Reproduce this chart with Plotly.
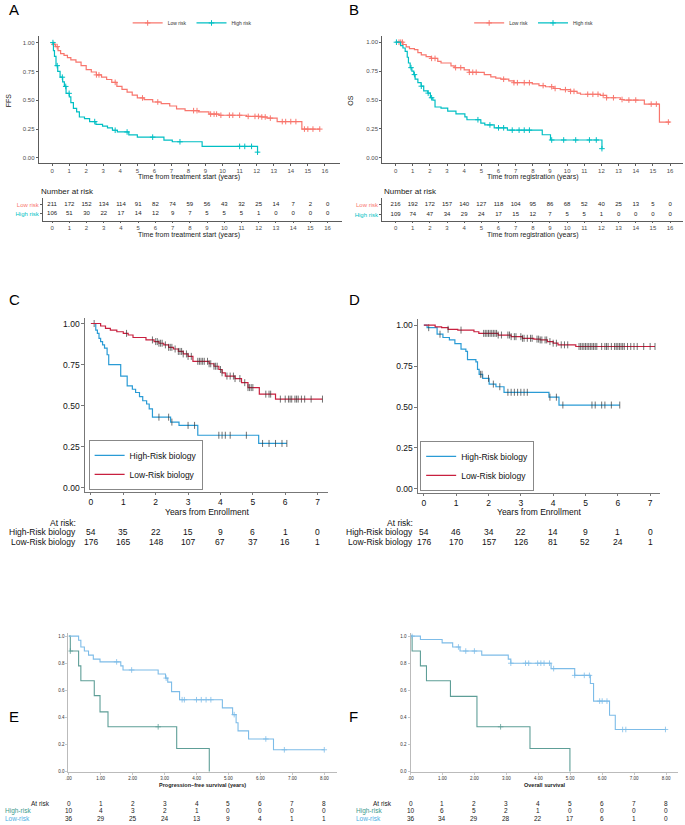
import numpy as np
import plotly.graph_objects as go

W, H = 685, 825
FONT = "Liberation Sans, Arial, sans-serif"

# ---------------- DATA ----------------
# Panel A (FFS) step curves: time at which survival changes, new survival value
A_low_t = [0, 0.1, 0.2, 0.35, 0.5, 0.7, 0.9, 1.1, 1.4, 1.7, 2.0, 2.3, 2.6, 2.9, 3.2, 3.5, 3.8, 4.1, 4.4, 4.7,
           5.0, 5.4, 5.9, 6.4, 6.9, 7.3, 7.8, 8.6, 9.2, 9.8, 11.4, 12.3, 12.6, 13.2, 14.65, 15.7]
A_low_s = [1.0, 0.985, 0.965, 0.93, 0.905, 0.89, 0.87, 0.85, 0.83, 0.80, 0.765, 0.745, 0.72, 0.70, 0.68, 0.655,
           0.62, 0.595, 0.57, 0.545, 0.52, 0.505, 0.485, 0.47, 0.45, 0.425, 0.41, 0.40, 0.38, 0.37, 0.36, 0.355,
           0.345, 0.315, 0.25, 0.25]
A_low_cens = [0.1, 0.3, 2.6, 2.75, 3.7, 5.3, 6.2, 8.3, 8.5, 9.3, 9.5, 9.65, 9.9, 10.4, 10.6, 11.0, 11.5, 11.9,
              12.1, 12.3, 12.5, 12.8, 13.5, 13.7, 14.0, 14.3, 14.8, 15.0, 15.3, 15.7]
A_high_t = [0, 0.08, 0.14, 0.23, 0.33, 0.47, 0.62, 0.72, 0.82, 1.01, 1.1, 1.25, 1.44, 1.6, 1.9, 2.2, 2.57, 2.96,
            3.25, 3.54, 3.83, 4.5, 5.0, 6.56, 7.05, 8.8, 12.05, 12.1]
A_high_s = [1.0, 0.93, 0.88, 0.80, 0.75, 0.70, 0.66, 0.62, 0.56, 0.53, 0.48, 0.43, 0.40, 0.355, 0.34, 0.315, 0.29,
            0.275, 0.26, 0.24, 0.225, 0.20, 0.18, 0.155, 0.14, 0.10, 0.05, 0.05]
A_high_cens = [0.05, 0.3, 0.6, 0.8, 1.0, 2.5, 3.7, 4.4, 5.9, 7.5, 11.0, 11.3, 11.7, 12.05]

# Panel B (OS)
B_low_t = [0, 0.43, 0.62, 0.81, 1.1, 1.3, 1.5, 1.78, 2.07, 2.46, 2.65, 3.23, 3.42, 4.0, 4.3, 5.17, 5.55, 5.84,
           6.13, 6.6, 6.9, 7.97, 8.36, 8.74, 9.23, 9.6, 10.2, 10.58, 10.78, 11.94, 12.3, 13.1, 13.3, 14.5, 15.38, 16.0]
B_low_s = [1.0, 0.98, 0.96, 0.945, 0.935, 0.91, 0.89, 0.875, 0.86, 0.835, 0.82, 0.795, 0.78, 0.76, 0.74, 0.72,
           0.70, 0.69, 0.68, 0.665, 0.65, 0.64, 0.625, 0.615, 0.60, 0.59, 0.575, 0.56, 0.55, 0.54, 0.52, 0.505,
           0.50, 0.465, 0.31, 0.31]
B_low_cens = [0.2, 0.3, 0.4, 2.1, 2.3, 3.5, 3.8, 4.3, 4.5, 4.7, 6.3, 6.9, 7.1, 7.5, 7.8, 8.6, 9.1, 9.3, 9.9, 10.2,
              10.4, 11.2, 11.5, 11.8, 12.1, 12.3, 12.7, 13.2, 13.6, 14.0, 14.9, 15.2, 15.9]
B_high_t = [0, 0.29, 0.43, 0.56, 0.68, 0.75, 0.85, 0.95, 1.06, 1.14, 1.3, 1.49, 1.64, 1.88, 2.03, 2.17, 2.3, 2.65,
            3.04, 3.52, 4.04, 4.16, 4.97, 5.2, 5.75, 6.52, 8.55, 9.03, 12.03, 12.05]
B_high_s = [1.0, 0.97, 0.95, 0.92, 0.87, 0.82, 0.78, 0.75, 0.72, 0.68, 0.65, 0.62, 0.58, 0.56, 0.52, 0.50, 0.44,
            0.43, 0.405, 0.38, 0.355, 0.33, 0.30, 0.285, 0.26, 0.24, 0.20, 0.155, 0.08, 0.08]
B_high_cens = [0.05, 0.9, 1.1, 1.5, 1.9, 2.1, 4.8, 5.5, 6.0, 6.3, 6.8, 7.2, 7.5, 7.8, 9.1, 9.8, 10.5, 11.3, 11.7, 12.03]

# Panel C
C_low_t = [0, 0.3, 0.45, 0.6, 0.8, 1.0, 1.15, 1.3, 1.7, 1.95, 2.1, 2.25, 2.4, 2.55, 2.7, 2.85, 3.0, 3.15, 3.65,
           3.8, 3.95, 4.05, 4.15, 4.45, 4.65, 4.85, 5.2, 5.7, 7.15]
C_low_s = [1.0, 0.985, 0.97, 0.96, 0.95, 0.94, 0.93, 0.915, 0.90, 0.89, 0.88, 0.87, 0.855, 0.845, 0.83, 0.815,
           0.80, 0.77, 0.755, 0.74, 0.72, 0.70, 0.68, 0.665, 0.64, 0.61, 0.57, 0.54, 0.54]
C_low_cens = [1.1, 1.9, 2.0, 2.05, 2.1, 2.15, 2.2, 2.3, 2.4, 2.45, 2.5, 2.6, 2.7, 2.75, 2.8, 2.85, 2.95, 3.0, 3.1,
              3.3, 3.35, 3.4, 3.45, 3.5, 3.6, 3.65, 3.7, 3.8, 3.85, 3.9, 4.0, 4.05, 4.2, 4.3, 4.4, 4.45, 4.6,
              4.75, 4.85, 4.9, 4.95, 5.0, 5.4, 5.5, 5.55, 5.85, 6.0, 6.1, 6.15, 6.2, 6.3, 6.35, 6.4, 6.5, 6.6,
              6.8, 7.15]
C_high_t = [0, 0.15, 0.2, 0.25, 0.3, 0.36, 0.42, 0.5, 0.55, 0.92, 1.12, 1.28, 1.38, 1.5, 1.6, 1.72, 1.8, 1.9,
            2.46, 2.72, 3.3, 5.18, 6.05]
C_high_s = [1.0, 0.96, 0.94, 0.91, 0.89, 0.87, 0.85, 0.81, 0.75, 0.68, 0.62, 0.60, 0.58, 0.555, 0.53, 0.51,
            0.48, 0.43, 0.40, 0.38, 0.32, 0.27, 0.27]
C_high_cens = [0.1, 2.1, 2.4, 2.5, 3.0, 3.2, 3.95, 4.05, 4.15, 4.3, 4.8, 5.3, 5.5, 5.7, 5.9, 6.05]

# Panel D
D_low_t = [0, 0.35, 0.55, 0.75, 1.05, 1.55, 1.7, 2.3, 2.7, 3.05, 3.4, 3.6, 3.82, 4.0, 4.15, 4.7, 7.15]
D_low_s = [1.0, 0.99, 0.985, 0.975, 0.97, 0.96, 0.95, 0.94, 0.93, 0.92, 0.915, 0.91, 0.90, 0.89, 0.88, 0.87, 0.87]
D_low_cens = [0.75, 1.15, 1.85, 1.9, 1.95, 2.0, 2.05, 2.1, 2.15, 2.2, 2.25, 2.3, 2.4, 2.6, 2.65, 2.7, 2.8, 2.85,
              3.0, 3.05, 3.1, 3.2, 3.3, 3.35, 3.5, 3.55, 3.6, 3.65, 3.75, 3.8, 3.9, 4.0, 4.1, 4.25, 4.35, 4.45,
              4.8, 4.85, 4.9, 4.95, 5.0, 5.05, 5.1, 5.15, 5.2, 5.25, 5.3, 5.35, 5.5, 5.6, 5.65, 5.7, 5.8, 5.9,
              5.95, 6.0, 6.05, 6.1, 6.15, 6.2, 6.3, 6.4, 6.5, 6.6, 6.8, 7.0, 7.15]
D_high_t = [0, 0.1, 0.41, 0.59, 0.79, 0.96, 1.15, 1.3, 1.35, 1.61, 1.66, 1.71, 1.82, 2.02, 2.23, 2.48, 3.87,
            4.18, 6.06]
D_high_s = [1.0, 0.985, 0.945, 0.925, 0.91, 0.888, 0.854, 0.84, 0.79, 0.776, 0.73, 0.70, 0.675, 0.64, 0.624,
            0.59, 0.56, 0.512, 0.512]
D_high_cens = [0.15, 0.5, 1.75, 1.8, 2.0, 2.15, 2.35, 2.6, 2.7, 2.8, 2.9, 3.0, 3.1, 3.2, 3.9, 4.1, 4.3, 5.2,
               5.3, 5.5, 5.6, 5.8, 6.06]

# Panel E (progression-free survival)
E_low_t = [0, 0.31, 0.38, 0.49, 0.62, 0.77, 0.98, 1.63, 1.7, 2.8, 3.03, 3.1, 3.22, 3.47, 4.81, 5.13, 5.24, 5.3,
           5.63, 6.41, 8.0]
E_low_s = [1.0, 0.97, 0.92, 0.89, 0.86, 0.83, 0.81, 0.78, 0.75, 0.72, 0.69, 0.66, 0.59, 0.53, 0.47, 0.42, 0.36,
           0.30, 0.24, 0.16, 0.16]
E_low_cens = [1.5, 1.97, 3.05, 3.55, 3.62, 4.0, 4.15, 4.3, 4.45, 5.18, 6.17, 6.75, 8.0]
E_high_t = [0, 0.05, 0.31, 0.38, 0.8, 0.98, 1.23, 3.38, 4.4]
E_high_s = [1.0, 0.89, 0.78, 0.67, 0.56, 0.44, 0.33, 0.17, 0.0]
E_high_cens = [0.05, 2.8]

# Panel F (overall survival)
F_low_t = [0, 0.31, 0.99, 1.32, 1.55, 2.23, 3.06, 3.14, 4.4, 5.14, 5.63, 5.73, 6.23, 6.41, 7.98]
F_low_s = [1.0, 0.975, 0.95, 0.92, 0.89, 0.86, 0.83, 0.80, 0.76, 0.71, 0.65, 0.52, 0.415, 0.31, 0.31]
F_low_cens = [0.05, 1.5, 1.73, 2.0, 3.14, 3.6, 3.7, 3.98, 4.08, 4.18, 4.35, 4.48, 5.14, 5.44, 5.6, 5.92, 6.0,
              6.15, 6.64, 6.74, 7.98]
F_high_t = [0, 0.05, 0.31, 0.5, 1.25, 2.08, 3.74, 4.99]
F_high_s = [1.0, 0.89, 0.78, 0.67, 0.555, 0.33, 0.17, 0.0]
F_high_cens = [2.82]

# Risk tables
AB_times = list(range(0, 17))
A_risk_low = [211, 172, 152, 134, 114, 91, 82, 74, 59, 56, 43, 32, 25, 14, 7, 2, 0]
A_risk_high = [106, 51, 30, 22, 17, 14, 12, 9, 7, 5, 5, 5, 1, 0, 0, 0, 0]
B_risk_low = [216, 192, 172, 157, 140, 127, 118, 104, 95, 86, 68, 52, 40, 25, 13, 5, 0]
B_risk_high = [109, 74, 47, 34, 29, 24, 17, 15, 12, 7, 5, 5, 1, 0, 0, 0, 0]
CD_times = list(range(0, 8))
C_risk_high = [54, 35, 22, 15, 9, 6, 1, 0]
C_risk_low = [176, 165, 148, 107, 67, 37, 16, 1]
D_risk_high = [54, 46, 34, 22, 14, 9, 1, 0]
D_risk_low = [176, 170, 157, 126, 81, 52, 24, 1]
EF_times = list(range(0, 9))
EF_ticktext = [".00", "1.00", "2.00", "3.00", "4.00", "5.00", "6.00", "7.00", "8.00"]
E_risk_high = [10, 4, 3, 2, 1, 0, 0, 0, 0]
E_risk_low = [36, 29, 25, 24, 13, 9, 4, 1, 1]
F_risk_high = [10, 6, 5, 2, 1, 0, 0, 0, 0]
F_risk_low = [36, 34, 29, 28, 22, 17, 6, 1, 0]

# ---------------- STYLE ----------------
C_LOWR, C_HIGHR = "#F8766D", "#00BFC4"
C_BLUE, C_RED = "#2A9BD5", "#C8203F"
C_EF_LOW, C_EF_HIGH = "#7DBCE8", "#5E9E97"


def xdom(lo, hi, p0, p1, v0, v1):
    k = (v1 - v0) / (p1 - p0)
    return [lo / W, hi / W], [v0 + (lo - p0) * k, v0 + (hi - p0) * k]


def ydom(top, bot, p0, p1, v0, v1):
    k = (v1 - v0) / (p1 - p0)
    return [1 - bot / H, 1 - top / H], [v0 + (bot - p0) * k, v0 + (top - p0) * k]


def step_at(t_arr, s_arr, ts):
    t_arr = np.asarray(t_arr, float)
    s_arr = np.asarray(s_arr, float)
    idx = np.clip(np.searchsorted(t_arr, ts, side="right") - 1, 0, len(s_arr) - 1)
    return s_arr[idx]


fig = go.Figure()


def km(ax, t, s, cens, color, width, sym, msize, mcolor, mwidth, name=None, legend=None):
    xa, ya = "x" + ("" if ax == 1 else str(ax)), "y" + ("" if ax == 1 else str(ax))
    fig.add_trace(go.Scatter(x=t, y=s, mode="lines", line=dict(color=color, width=width, shape="hv"),
                             xaxis=xa, yaxis=ya, name=name or "", showlegend=bool(name and legend),
                             legend=legend or "legend", hoverinfo="skip"))
    fig.add_trace(go.Scatter(x=cens, y=step_at(t, s, cens), mode="markers",
                             marker=dict(symbol=sym, size=msize, line=dict(color=mcolor, width=mwidth)),
                             xaxis=xa, yaxis=ya, showlegend=False, hoverinfo="skip"))


# A / B
km(1, A_low_t, A_low_s, A_low_cens, C_LOWR, 1.2, "cross-thin", 4, C_LOWR, 1)
km(1, A_high_t, A_high_s, A_high_cens, C_HIGHR, 1.2, "cross-thin", 4, C_HIGHR, 1)
km(2, B_low_t, B_low_s, B_low_cens, C_LOWR, 1.2, "cross-thin", 4, C_LOWR, 1)
km(2, B_high_t, B_high_s, B_high_cens, C_HIGHR, 1.2, "cross-thin", 4, C_HIGHR, 1)
for lg, xa, ya in [("legend", "x", "y"), ("legend2", "x2", "y2")]:
    for nm, col in [("Low risk", C_LOWR), ("High risk", C_HIGHR)]:
        fig.add_trace(go.Scatter(x=[None], y=[None], mode="lines+markers", name=nm, legend=lg,
                                 line=dict(color=col, width=1.2),
                                 marker=dict(symbol="cross-thin", size=4, line=dict(color=col, width=1)),
                                 xaxis=xa, yaxis=ya))

# C / D
km(3, C_high_t, C_high_s, C_high_cens, C_BLUE, 1.2, "line-ns", 5, "#333333", 0.7, "High-Risk biology", "legend3")
km(3, C_low_t, C_low_s, C_low_cens, C_RED, 1.2, "line-ns", 5, "#333333", 0.7, "Low-Risk biology", "legend3")
km(4, D_high_t, D_high_s, D_high_cens, C_BLUE, 1.2, "line-ns", 5, "#333333", 0.7, "High-Risk biology", "legend4")
km(4, D_low_t, D_low_s, D_low_cens, C_RED, 1.2, "line-ns", 5, "#333333", 0.7, "Low-Risk biology", "legend4")

# E / F
km(5, E_high_t, E_high_s, E_high_cens, C_EF_HIGH, 1.1, "cross-thin", 4, C_EF_HIGH, 0.8)
km(5, E_low_t, E_low_s, E_low_cens, C_EF_LOW, 1.1, "cross-thin", 4, C_EF_LOW, 0.8)
km(6, F_high_t, F_high_s, F_high_cens, C_EF_HIGH, 1.1, "cross-thin", 4, C_EF_HIGH, 0.8)
km(6, F_low_t, F_low_s, F_low_cens, C_EF_LOW, 1.1, "cross-thin", 4, C_EF_LOW, 0.8)

# Risk tables A / B as text traces
for xa, ya, lows, highs in [("x7", "y7", A_risk_low, A_risk_high), ("x8", "y8", B_risk_low, B_risk_high)]:
    fig.add_trace(go.Scatter(x=AB_times, y=[1] * len(AB_times), mode="text", text=[str(v) for v in lows],
                             textfont=dict(size=6, color="#222222", family=FONT), xaxis=xa, yaxis=ya,
                             showlegend=False, hoverinfo="skip"))
    fig.add_trace(go.Scatter(x=AB_times, y=[0] * len(AB_times), mode="text", text=[str(v) for v in highs],
                             textfont=dict(size=6, color="#222222", family=FONT), xaxis=xa, yaxis=ya,
                             showlegend=False, hoverinfo="skip"))

# ---------------- AXES ----------------
lay = {}
gg_ax = dict(showline=True, linecolor="#333333", linewidth=0.8, ticks="outside", ticklen=2,
             tickcolor="#333333", tickwidth=0.8, showgrid=False, zeroline=False,
             tickfont=dict(size=6, color="#4d4d4d", family=FONT), fixedrange=True)

dx, rx = xdom(35.7, 338, 49.3, 323.3, 0, 16)
dy, ry = ydom(36, 163.3, 158.3, 42.7, 0, 1)
lay["xaxis"] = dict(gg_ax, domain=dx, range=rx, tickvals=AB_times, anchor="y")
lay["yaxis"] = dict(gg_ax, domain=dy, range=ry, tickvals=[0, 0.25, 0.5, 0.75, 1], tickformat=".2f", anchor="x")

dx, rx = xdom(380.7, 683, 394.3, 670, 0, 16)
dy, ry = ydom(36, 163.3, 158.3, 42.3, 0, 1)
lay["xaxis2"] = dict(gg_ax, domain=dx, range=rx, tickvals=AB_times, anchor="y2")
lay["yaxis2"] = dict(gg_ax, domain=dy, range=ry, tickvals=[0, 0.25, 0.5, 0.75, 1], tickformat=".2f", anchor="x2")

risk_tt = ['<span style="color:%s">High risk</span>' % C_HIGHR, '<span style="color:%s">Low risk</span>' % C_LOWR]
dx, rx = xdom(40, 340, 49.3, 326, 0, 16)
dy, ry = ydom(198, 221.7, 214.3, 205, 0, 1)
lay["xaxis7"] = dict(gg_ax, domain=dx, range=rx, tickvals=AB_times, anchor="y7", ticklen=1)
lay["yaxis7"] = dict(gg_ax, domain=dy, range=ry, tickvals=[0, 1], ticktext=risk_tt, anchor="x7")
dx, rx = xdom(380.7, 683, 394.3, 670, 0, 16)
dy, ry = ydom(198, 221.7, 215, 205, 0, 1)
lay["xaxis8"] = dict(gg_ax, domain=dx, range=rx, tickvals=AB_times, anchor="y8", ticklen=1)
lay["yaxis8"] = dict(gg_ax, domain=dy, range=ry, tickvals=[0, 1], ticktext=risk_tt, anchor="x8")

cd_ax = dict(showline=True, linecolor="#777777", linewidth=1, ticks="outside", ticklen=3,
             tickcolor="#777777", tickwidth=1, showgrid=False, zeroline=False,
             tickfont=dict(size=8.5, color="#111111", family=FONT), fixedrange=True)
dx, rx = xdom(82.7, 326.7, 88.3, 316, 0, 7)
dy, ry = ydom(319, 493.3, 489, 324.3, 0, 1)
lay["xaxis3"] = dict(cd_ax, domain=dx, range=rx, tickvals=CD_times, anchor="y3", ticklen=2)
lay["yaxis3"] = dict(cd_ax, domain=dy, range=ry, tickvals=[0, 0.25, 0.5, 0.75, 1], tickformat=".2f", anchor="x3")
dx, rx = xdom(417.3, 660, 422.7, 650, 0, 7)
dy, ry = ydom(319.3, 494, 490, 326, 0, 1)
lay["xaxis4"] = dict(cd_ax, domain=dx, range=rx, tickvals=CD_times, anchor="y4", ticklen=2)
lay["yaxis4"] = dict(cd_ax, domain=dy, range=ry, tickvals=[0, 0.25, 0.5, 0.75, 1], tickformat=".2f", anchor="x4")

ef_ax = dict(showline=True, linecolor="#bbbbbb", linewidth=1, ticks="outside", ticklen=2,
             tickcolor="#bbbbbb", tickwidth=0.8, showgrid=False, zeroline=False,
             tickfont=dict(size=4.5, color="#333333", family=FONT), fixedrange=True)
dx, rx = xdom(65.7, 335, 66, 322.7, 0, 8)
dy, ry = ydom(635, 773.8, 773.3, 637.7, 0, 1)
lay["xaxis5"] = dict(ef_ax, domain=dx, range=rx, tickvals=EF_times, ticktext=EF_ticktext, anchor="y5")
lay["yaxis5"] = dict(ef_ax, domain=dy, range=ry, tickvals=[0, 0.2, 0.4, 0.6, 0.8, 1.0], tickformat=".1f", anchor="x5")
dx, rx = xdom(409.3, 678, 409.3, 666, 0, 8)
lay["xaxis6"] = dict(ef_ax, domain=dx, range=rx, tickvals=EF_times, ticktext=EF_ticktext, anchor="y6")
lay["yaxis6"] = dict(ef_ax, domain=dy, range=ry, tickvals=[0, 0.2, 0.4, 0.6, 0.8, 1.0], tickformat=".1f", anchor="x6")

# ---------------- ANNOTATIONS ----------------
ann = []


def txt(text, px, py, size, color="#111111", xanchor="center", angle=0, bold=False, xref="paper", xval=None):
    ann.append(dict(text=("<b>%s</b>" % text) if bold else text,
                    x=(px / W) if xref == "paper" else xval, y=1 - py / H, xref=xref, yref="paper",
                    xanchor=xanchor, yanchor="middle", showarrow=False, textangle=angle,
                    font=dict(size=size, color=color, family=FONT)))


# panel letters
for L, px, py in [("A", 4, 10), ("B", 346, 10), ("C", 4, 300), ("D", 346, 300), ("E", 4, 718), ("F", 346, 718)]:
    txt(L, px, py, 15, "#000000", xanchor="left")

# A / B titles
txt("FFS", 5, 100.5, 7, "#222222", angle=-90)
txt("OS", 349, 100.5, 7, "#222222", angle=-90)
txt("Time from treatment start (years)", 187, 177, 7, "#222222")
txt("Time from registration (years)", 532.5, 177, 7, "#222222")
txt("Number at risk", 36, 191.5, 8, "#222222", xanchor="left")
txt("Number at risk", 381, 191.5, 8, "#222222", xanchor="left")
txt("Time from treatment start (years)", 187, 236, 7, "#222222")
txt("Time from registration (years)", 532.5, 236, 7, "#222222")

# C / D risk tables
for xr, lab_px, title_px, high, low in [("x3", 75, 205, C_risk_high, C_risk_low),
                                       ("x4", 414, 538, D_risk_high, D_risk_low)]:
    txt("Years from Enrollment", title_px, 513.5, 8.5)
    txt("At risk:", lab_px, 524.5, 8.5, xanchor="right")
    txt("High-Risk biology", lab_px, 533.5, 8.5, xanchor="right")
    txt("Low-Risk biology", lab_px, 543.5, 8.5, xanchor="right")
    for t, h, l in zip(CD_times, high, low):
        txt(str(h), 0, 533.5, 8.5, xref=xr, xval=t)
        txt(str(l), 0, 543.5, 8.5, xref=xr, xval=t)

# E / F titles and risk tables
txt("Progression\u2013free survival (years)", 200, 786.7, 5.5, "#222222", bold=True)
txt("Overall survival", 544, 786.7, 5.5, "#222222", bold=True)
for xr, atr_px, lab_px, high, low in [("x5", 49, 0, E_risk_high, E_risk_low),
                                      ("x6", 393, 353, F_risk_high, F_risk_low)]:
    txt("At risk", atr_px, 805.7, 6.5, "#222222", xanchor="right")
    txt("High-risk", lab_px, 812.5, 6.5, "#3E9A8C", xanchor="left")
    txt("Low-risk", lab_px, 820.5, 6.5, "#4DAFE3", xanchor="left")
    for t, h, l in zip(EF_times, high, low):
        txt(str(t), 0, 805.7, 6.5, "#222222", xref=xr, xval=t)
        txt(str(h), 0, 812.5, 6.5, "#222222", xref=xr, xval=t)
        txt(str(l), 0, 820.5, 6.5, "#222222", xref=xr, xval=t)

# ---------------- LEGENDS ----------------
leg_ab = dict(orientation="h", xanchor="center", yanchor="middle", font=dict(size=5, color="#333333", family=FONT),
              itemwidth=30, bgcolor="rgba(0,0,0,0)", tracegroupgap=0, traceorder="normal")
leg_cd = dict(orientation="v", xanchor="left", yanchor="bottom", font=dict(size=8.5, color="#111111", family=FONT),
              itemwidth=30, bgcolor="white", bordercolor="#888888", borderwidth=1, tracegroupgap=0,
              traceorder="normal")

fig.update_layout(
    width=W, height=H, margin=dict(l=0, r=0, t=0, b=0), autosize=False,
    paper_bgcolor="white", plot_bgcolor="white", font=dict(family=FONT),
    legend=dict(leg_ab, x=190 / W, y=1 - 23 / H),
    legend2=dict(leg_ab, x=533 / W, y=1 - 23 / H),
    legend3=dict(leg_cd, x=86 / W, y=1 - 491 / H),
    legend4=dict(leg_cd, x=419 / W, y=1 - 492 / H),
    annotations=ann,
    **lay,
)

fig.write_html("out.html", config={"displayModeBar": False, "staticPlot": True},
               post_script="document.body.style.margin='0';document.body.style.padding='0';"
                           "document.body.style.overflow='hidden';")
